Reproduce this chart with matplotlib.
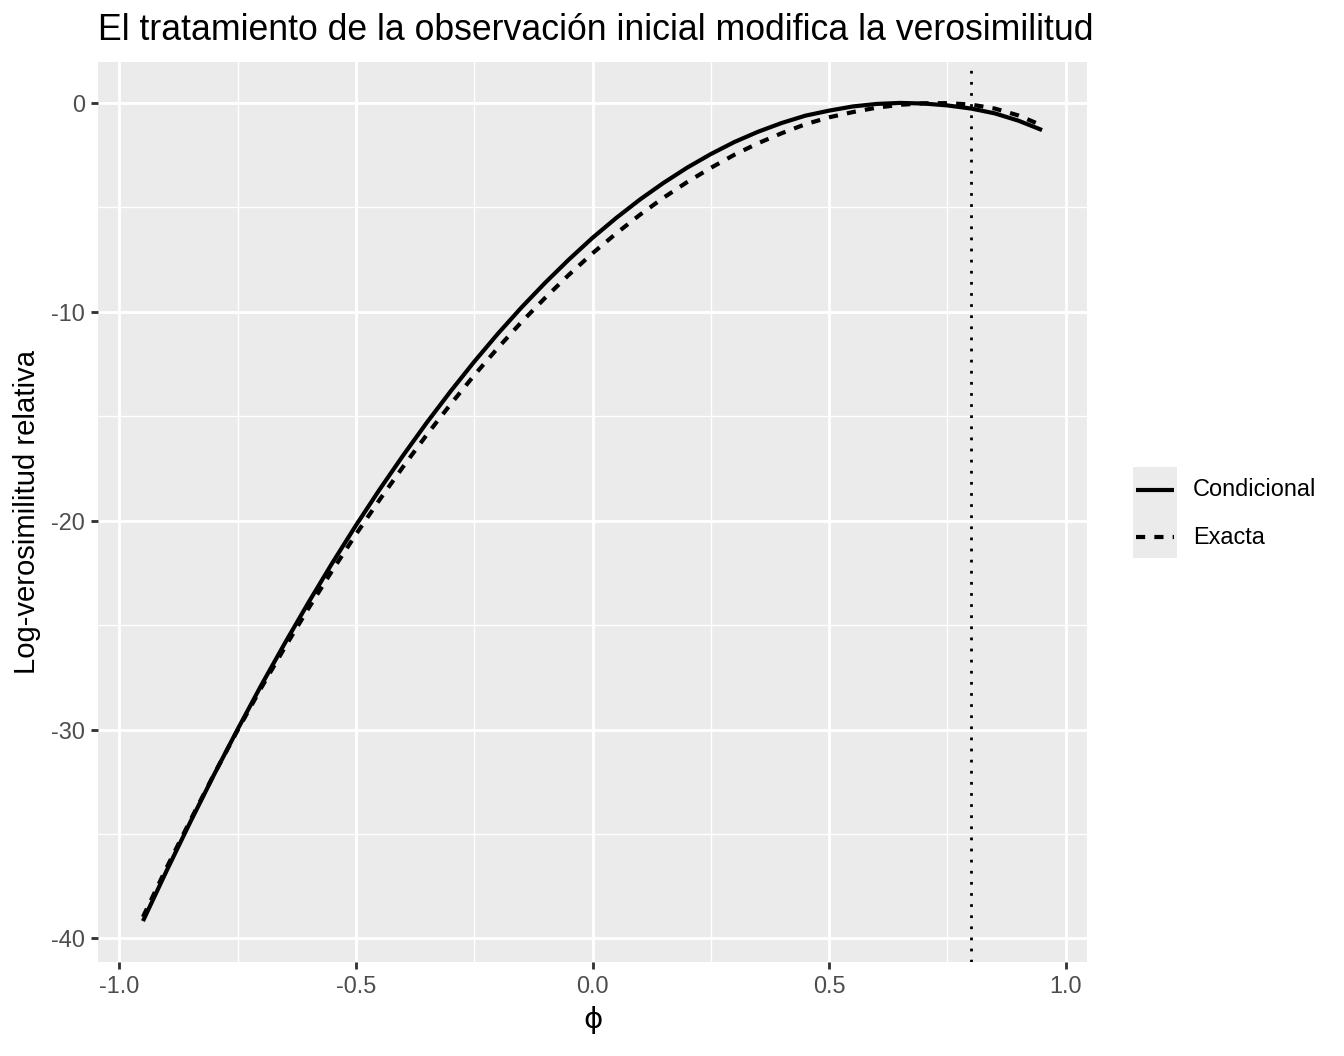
import matplotlib
matplotlib.use("Agg")
import matplotlib.pyplot as plt
import numpy as np

plt.rcParams['font.family'] = ['Liberation Sans', 'DejaVu Sans']

# ---- data ----
phi = [-0.95, -0.90, -0.85, -0.80, -0.75, -0.70, -0.65, -0.60, -0.55, -0.50,
       -0.45, -0.40, -0.35, -0.30, -0.25, -0.20, -0.15, -0.10, -0.05, 0.00,
       0.05, 0.10, 0.15, 0.20, 0.25, 0.30, 0.35, 0.40, 0.45, 0.50,
       0.55, 0.60, 0.65, 0.70, 0.75, 0.80, 0.85, 0.90, 0.95]
condicional = [-39.17, -36.76, -34.43, -32.17, -29.99, -27.88, -25.86, -23.91, -22.03, -20.23,
               -18.51, -16.87, -15.30, -13.81, -12.39, -11.05, -9.79, -8.61, -7.50, -6.46,
               -5.51, -4.63, -3.83, -3.10, -2.45, -1.87, -1.38, -0.96, -0.61, -0.37,
               -0.17, -0.05, 0.00, -0.03, -0.12, -0.27, -0.50, -0.85, -1.30]
exacta = [-38.97, -36.61, -34.35, -32.15, -30.04, -28.00, -26.06, -24.19, -22.39, -20.66,
          -19.00, -17.41, -15.88, -14.43, -13.04, -11.73, -10.49, -9.33, -8.23, -7.20,
          -6.25, -5.36, -4.54, -3.79, -3.11, -2.48, -1.93, -1.45, -1.02, -0.69,
          -0.44, -0.23, -0.09, -0.02, -0.01, -0.08, -0.27, -0.60, -1.08]
phi_verdadero = 0.8
series_labels = ["Condicional", "Exacta"]
x_ticks = [-1.0, -0.5, 0.0, 0.5, 1.0]
x_minor = [-0.75, -0.25, 0.25, 0.75]
y_ticks = [-40, -30, -20, -10, 0]
y_minor = [-35, -25, -15, -5]

title = "El tratamiento de la observación inicial modifica la verosimilitud"
xlabel = "\u03d5"
ylabel = "Log-verosimilitud relativa"

# ---- figure ----
W, H = 1344, 1056
fig = plt.figure(figsize=(W / 100, H / 100), dpi=100)
L, R, T, B = 98, 1087, 62, 962
ax = fig.add_axes([L / W, 1 - B / H, (R - L) / W, (B - T) / H])
ax.set_facecolor("#EBEBEB")
for s in ax.spines.values():
    s.set_visible(False)

xmin, xmax = min(phi), max(phi)
allv = condicional + exacta
ymin, ymax = min(allv), max(allv)
dx, dy = (xmax - xmin) * 0.05, (ymax - ymin) * 0.05
ax.set_xlim(xmin - dx, xmax + dx)
ax.set_ylim(ymin - dy, ymax + dy)

ax.set_xticks(x_ticks)
ax.set_xticklabels([f"{v:.1f}" for v in x_ticks])
ax.set_xticks(x_minor, minor=True)
ax.set_yticks(y_ticks)
ax.set_yticklabels([str(v) for v in y_ticks])
ax.set_yticks(y_minor, minor=True)
ax.grid(which="major", color="white", linewidth=2.05)
ax.grid(which="minor", color="white", linewidth=1.0)
ax.set_axisbelow(True)
ax.tick_params(which="major", length=5.3, width=2.05, color="#333333",
               labelsize=16.9, labelcolor="#4D4D4D", pad=4.2)
ax.tick_params(which="minor", length=0)

lw = 3.0
ax.plot(phi, condicional, color="black", linewidth=lw, solid_capstyle="butt",
        solid_joinstyle="round", label=series_labels[0])
ax.plot(phi, exacta, color="black", linewidth=lw, linestyle=(0, (2.2, 2.2)),
        dash_capstyle="butt", label=series_labels[1])
ax.axvline(phi_verdadero, color="black", linewidth=2.0, linestyle=(0, (1, 3)),
           dash_capstyle="butt")

ax.set_title(title, loc="left", fontsize=25.7, pad=15.5, color="black")
ax.set_xlabel(xlabel, fontsize=21.1, family=['DejaVu Sans'])
ax.set_ylabel(ylabel, fontsize=21.1)
ax.xaxis.set_label_coords((593 - L) / (R - L), (B - 1020) / (B - T))
ax.xaxis.label.set_va("center")
ax.yaxis.set_label_coords((27 - L) / (R - L), 0.5)
ax.yaxis.label.set_va("center")

# ---- legend (manual keys) ----
kx0, kx1, ky0, ky1 = 1133, 1177, 467, 558
lax = fig.add_axes([kx0 / W, 1 - ky1 / H, (kx1 - kx0) / W, (ky1 - ky0) / H])
lax.set_facecolor("#EBEBEB")
lax.set_xlim(0, 1)
lax.set_ylim(0, 1)
lax.set_xticks([])
lax.set_yticks([])
for s in lax.spines.values():
    s.set_visible(False)
key_y = [490, 537]
styles = ["-", (0, (2.2, 2.2))]
for yk, st, lab in zip(key_y, styles, series_labels):
    yy = (ky1 - yk) / (ky1 - ky0)
    lax.plot([0.07, 0.93], [yy, yy], color="black", linewidth=lw, linestyle=st,
             solid_capstyle="butt", dash_capstyle="butt")
    fig.text(1193 / W, 1 - yk / H, lab, fontsize=16.9, va="center", ha="left",
             color="black")

fig.savefig("out.png", dpi=100)
